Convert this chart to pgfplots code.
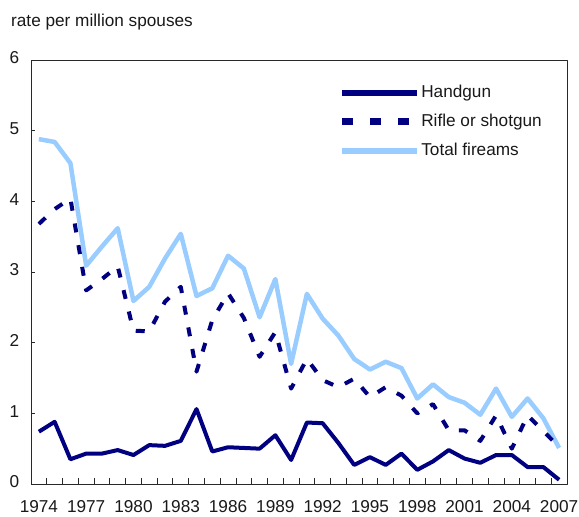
\documentclass[border=0pt]{standalone}
\usepackage{fontspec}
\setmainfont{Liberation Sans}
\usepackage{pgfplots}
\pgfplotsset{compat=1.18}
\definecolor{navyline}{RGB}{0,0,128}
\definecolor{lightblue}{RGB}{153,204,255}
\definecolor{axisgray}{RGB}{40,40,40}
\pgfplotstableread{
year handgun rifle total
1974 0.74 3.68 4.88
1975 0.88 3.89 4.84
1976 0.35 4.04 4.54
1977 0.43 2.74 3.09
1978 0.43 2.90 3.36
1979 0.48 3.08 3.62
1980 0.41 2.17 2.59
1981 0.55 2.16 2.79
1982 0.54 2.58 3.19
1983 0.61 2.79 3.54
1984 1.06 1.59 2.66
1985 0.46 2.32 2.77
1986 0.52 2.70 3.23
1987 0.51 2.35 3.05
1988 0.50 1.80 2.36
1989 0.69 2.15 2.90
1990 0.34 1.35 1.70
1991 0.87 1.77 2.69
1992 0.86 1.47 2.34
1993 0.58 1.37 2.10
1994 0.27 1.49 1.77
1995 0.38 1.23 1.62
1996 0.27 1.37 1.73
1997 0.43 1.25 1.64
1998 0.20 1.00 1.21
1999 0.32 1.13 1.41
2000 0.48 0.76 1.23
2001 0.36 0.76 1.15
2002 0.30 0.61 0.98
2003 0.41 0.97 1.35
2004 0.41 0.50 0.95
2005 0.24 0.97 1.21
2006 0.24 0.75 0.93
2007 0.06 0.52 0.51
}\datatable
\newcommand{\chartfont}{\fontsize{17.2}{20}\selectfont}
\begin{document}
\chartfont
\begin{tikzpicture}
\useasboundingbox (0pt,0pt) rectangle (579pt,517pt);
\node[anchor=base west, inner sep=0pt, text=black!90, font=\chartfont] at (11pt,490.5pt) {rate per million spouses};
\begin{axis}[
  at={(31pt,33pt)}, anchor=south west,
  width=536pt, height=424pt, scale only axis,
  xmin=1973.5, xmax=2007.5, ymin=0, ymax=6,
  axis line style={line width=0.9pt, draw=axisgray},
  /pgf/number format/assume math mode=true,
  xtick={1974,1977,...,2007},
  xticklabels={1974,1977,1980,1983,1986,1989,1992,1995,1998,2001,2004,2007},
  minor xtick={1974.5,1975.5,...,2006.5},
  ytick={0,1,...,6},
  tick align=inside,
  xtick pos=bottom, ytick pos=left,
  major x tick style={draw=none},
  minor x tick style={line width=0.8pt, draw=axisgray},
  major y tick style={line width=0.8pt, draw=axisgray},
  major tick length=4.5pt,
  minor tick length=6pt,
  ticklabel style={font=\chartfont, text=black!90},
  xticklabel style={yshift=-11pt},
  yticklabel style={xshift=-6pt, yshift=2pt},
  legend style={draw=none, fill=none, at={(rel axis cs:0.573,0.943)}, anchor=north west,
    font=\chartfont, row sep=12pt, inner sep=0pt,
    nodes={inner sep=1pt, text=black!90}},
  legend cell align=left,
  legend image code/.code={\draw[#1] (0pt,0pt) -- (75pt,0pt);},
  legend image post style={line width=6.5pt},
  reverse legend,
  line join=round,
]
\addplot[lightblue, line width=4.5pt] table[x=year, y=total] {\datatable};
\addlegendentry{Total fireams}
\addplot[navyline, line width=4pt, dash pattern=on 9pt off 13pt,
  legend image post style={line width=7pt, dash pattern=on 11pt off 17pt}] table[x=year, y=rifle] {\datatable};
\addlegendentry{Rifle or shotgun}
\addplot[navyline, line width=4pt] table[x=year, y=handgun] {\datatable};
\addlegendentry{Handgun}
\end{axis}
\end{tikzpicture}
\end{document}
